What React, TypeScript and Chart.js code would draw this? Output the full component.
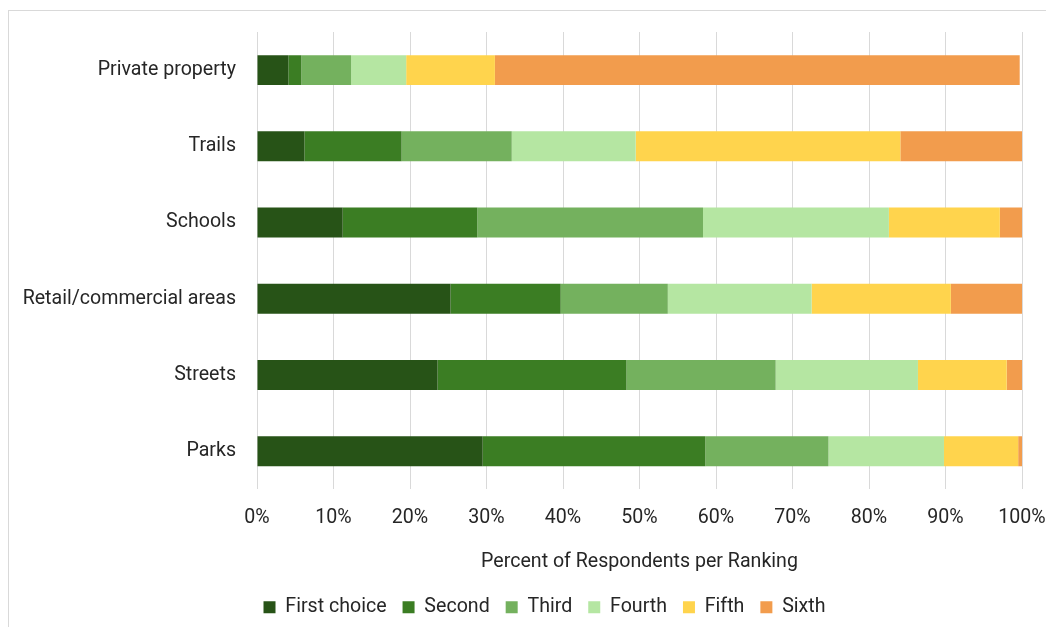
import React, { useEffect, useRef } from "react";
import { Chart, registerables } from "chart.js";

Chart.register(...registerables);

const categories = ["Private property", "Trails", "Schools", "Retail/commercial areas", "Streets", "Parks"];
const seriesNames = ["First choice", "Second", "Third", "Fourth", "Fifth", "Sixth"];
const firstChoice = [4.1, 6.2, 11.2, 25.3, 23.6, 29.5];
const second = [1.7, 12.7, 17.6, 14.4, 24.7, 29.1];
const third = [6.5, 14.4, 29.5, 14.0, 19.5, 16.1];
const fourth = [7.2, 16.2, 24.3, 18.8, 18.6, 15.1];
const fifth = [11.6, 34.6, 14.5, 18.2, 11.6, 9.7];
const sixth = [68.6, 15.9, 2.9, 9.3, 2.0, 0.5];
const colors = ["#275317", "#3B7D23", "#74B15E", "#B5E6A2", "#FFD44D", "#F29C4D"];
const xTickValues = [0, 10, 20, 30, 40, 50, 60, 70, 80, 90, 100];

const FONT = "Roboto, sans-serif";
const SIZE = 19.6;

const legendShift = {
  id: "legendShift",
  afterLayout(chart: any) {
    const lg = chart.legend;
    if (lg) {
      lg.left += 29;
      lg.right += 29;
    }
  },
};

export default function App() {
  const ref = useRef<HTMLCanvasElement | null>(null);
  useEffect(() => {
    document.documentElement.style.overflow = "hidden";
    document.body.style.overflow = "hidden";
    if (!ref.current) return;
    const values = [firstChoice, second, third, fourth, fifth, sixth];
    const chart = new Chart(ref.current, {
      type: "bar",
      data: {
        labels: categories,
        datasets: seriesNames.map((name, i) => ({
          label: name,
          data: values[i],
          backgroundColor: colors[i],
          borderWidth: 0,
          categoryPercentage: 1,
          barPercentage: 0.393,
        })),
      },
      plugins: [legendShift],
      options: {
        indexAxis: "y",
        animation: false,
        responsive: true,
        maintainAspectRatio: false,
        layout: { padding: { left: 0, right: 32, top: 21, bottom: 0 } },
        plugins: {
          tooltip: { enabled: false },
          legend: {
            position: "bottom",
            labels: {
              boxWidth: 12,
              boxHeight: 12,
              padding: 16,
              color: "#262626",
              font: { family: FONT, size: SIZE },
            },
          },
        },
        scales: {
          x: {
            stacked: true,
            min: 0,
            max: 100,
            afterBuildTicks: (scale: any) => {
              scale.ticks = xTickValues.map((v) => ({ value: v }));
            },
            afterFit: (scale: any) => {
              scale.paddingLeft = 0;
              scale.paddingRight = 0;
            },
            grid: { color: "#d9d9d9", lineWidth: 1, drawTicks: false },
            border: { display: false },
            ticks: {
              padding: 17,
              color: "#262626",
              font: { family: FONT, size: SIZE },
              callback: (v: any) => v + "%",
            },
            title: {
              display: true,
              text: "Percent of Respondents per Ranking",
              color: "#262626",
              font: { family: FONT, size: SIZE },
              padding: { top: 3, bottom: 8 },
            },
          },
          y: {
            stacked: true,
            afterFit: (scale: any) => {
              scale.width = 248;
              scale.paddingTop = 0;
              scale.paddingBottom = 0;
            },
            grid: { display: false },
            border: { display: false },
            ticks: {
              padding: 13,
              color: "#262626",
              font: { family: FONT, size: SIZE },
            },
          },
        },
      },
    });
    return () => chart.destroy();
  }, []);
  return (
    <div
      style={{
        width: 1046,
        height: 617,
        marginTop: 2,
        borderTop: "1px solid #d9d9d9",
        borderLeft: "1px solid #d9d9d9",
        boxSizing: "border-box",
        position: "relative",
        background: "#fff",
      }}
    >
      <canvas ref={ref} />
    </div>
  );
}
